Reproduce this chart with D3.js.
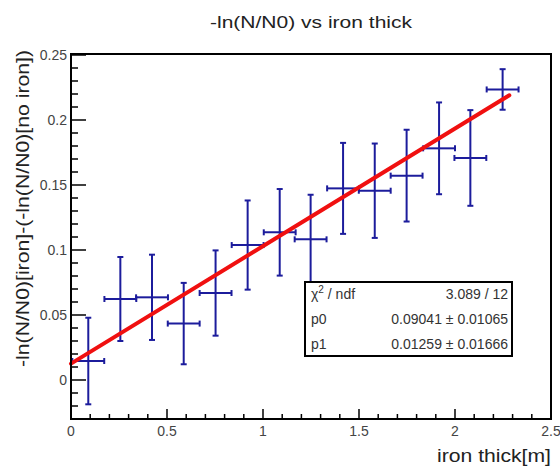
<!DOCTYPE html>
<html>
<head>
<meta charset="utf-8">
<script src="https://cdn.jsdelivr.net/npm/d3@7"></script>
<style>
  body { margin: 0; background: #fff; }
  svg { display: block; font-family: "Liberation Sans", Arial, sans-serif; }
</style>
</head>
<body>
<div id="chart"></div>
<script>
// data
const thick  = [0.09, 0.257, 0.422, 0.587, 0.753, 0.92, 1.087, 1.248, 1.417, 1.582, 1.748, 1.917, 2.08, 2.248];
const lnRat  = [0.0146, 0.0623, 0.0636, 0.0434, 0.0669, 0.1038, 0.1136, 0.1082, 0.1474, 0.1456, 0.1572, 0.1782, 0.1708, 0.2235];
const errY   = [0.0333, 0.0323, 0.0328, 0.0313, 0.0328, 0.0343, 0.0333, 0.0343, 0.035, 0.0363, 0.0353, 0.0353, 0.0368, 0.0156];
const errX   = [0.083, 0.083, 0.083, 0.083, 0.083, 0.083, 0.083, 0.083, 0.083, 0.083, 0.083, 0.083, 0.083, 0.083];
const fitRange = [0, 2.283];
const p0 = 0.09041, p1 = 0.01259;   // slope, intercept
const statRows = [["χ2 / ndf", "3.089 / 12"], ["p0", "0.09041 ± 0.01065"], ["p1", "0.01259 ± 0.01666"]];
const xTicks = [0, 0.5, 1, 1.5, 2, 2.5];
const yTicks = [0, 0.05, 0.1, 0.15, 0.2, 0.25];

const W = 560, H = 468;
const L = 71, R = 551, T = 54, B = 419;

const svg = d3.select("#chart").append("svg")
    .attr("width", W).attr("height", H);

const x = d3.scaleLinear().domain([0, 2.5]).range([L, R]);
const y = d3.scaleLinear().domain([-0.03, 0.25]).range([B, 55]);

const pts = thick.map((t, i) => ({x: t, y: lnRat[i], ex: errX[i], ey: errY[i]}));

// title
svg.append("text").attr("x", 311).attr("y", 28).attr("text-anchor", "middle")
    .attr("font-size", 17).attr("fill", "#222")
    .attr("textLength", 202).attr("lengthAdjust", "spacingAndGlyphs")
    .text("-ln(N/N0) vs iron thick");

// error bars
const blue = "#1c1c9c";
const g = svg.append("g").attr("stroke", blue).attr("stroke-width", 2);
pts.forEach(d => {
    const cx = x(d.x), cy = y(d.y);
    const x1 = x(d.x - d.ex), x2 = x(d.x + d.ex);
    const y1 = y(d.y + d.ey), y2 = y(d.y - d.ey);
    g.append("line").attr("x1", x1).attr("x2", x2).attr("y1", cy).attr("y2", cy);
    g.append("line").attr("x1", cx).attr("x2", cx).attr("y1", y1).attr("y2", y2);
    g.append("line").attr("x1", x1).attr("x2", x1).attr("y1", cy - 3).attr("y2", cy + 3);
    g.append("line").attr("x1", x2).attr("x2", x2).attr("y1", cy - 3).attr("y2", cy + 3);
    g.append("line").attr("x1", cx - 3).attr("x2", cx + 3).attr("y1", y1).attr("y2", y1);
    g.append("line").attr("x1", cx - 3).attr("x2", cx + 3).attr("y1", y2).attr("y2", y2);
});

// fit line
svg.append("line")
    .attr("x1", x(fitRange[0])).attr("y1", y(p1 + p0 * fitRange[0]))
    .attr("x2", x(fitRange[1])).attr("y2", y(p1 + p0 * fitRange[1]))
    .attr("stroke", "#f01010").attr("stroke-width", 4).attr("stroke-linecap", "round");

// frame
svg.append("rect").attr("x", L).attr("y", T).attr("width", R - L).attr("height", B - T)
    .attr("fill", "none").attr("stroke", "#000").attr("stroke-width", 2);

// x ticks
const xMinor = d3.range(0, 2.5001, 0.1);
svg.append("g").selectAll("line").data(xMinor).join("line")
    .attr("x1", d => x(d)).attr("x2", d => x(d))
    .attr("y1", B).attr("y2", (d, i) => i % 5 == 0 ? B - 10 : B - 5)
    .attr("stroke", "#000").attr("stroke-width", 1.5);
svg.append("g").selectAll("text").data(xTicks).join("text")
    .attr("x", d => x(d)).attr("y", 436).attr("text-anchor", "middle")
    .attr("font-size", 14).attr("fill", "#444").text(d => d);

// y ticks
const yMinor = d3.range(-0.03, 0.2501, 0.01);
svg.append("g").selectAll("line").data(yMinor).join("line")
    .attr("x1", L).attr("x2", (d, i) => (i - 3) % 5 == 0 ? L + 15 : L + 7)
    .attr("y1", d => y(d)).attr("y2", d => y(d))
    .attr("stroke", "#000").attr("stroke-width", 1.5);
svg.append("g").selectAll("text").data(yTicks).join("text")
    .attr("x", 67).attr("y", d => y(d) + 5).attr("text-anchor", "end")
    .attr("font-size", 14).attr("fill", "#444").text(d => d);

// axis titles
svg.append("text").attr("x", R).attr("y", 462).attr("text-anchor", "end")
    .attr("font-size", 18).attr("fill", "#222")
    .attr("textLength", 114).attr("lengthAdjust", "spacingAndGlyphs")
    .text("iron thick[m]");
svg.append("text").attr("transform", "translate(29,50) rotate(-90)")
    .attr("text-anchor", "end").attr("font-size", 18).attr("fill", "#222")
    .attr("textLength", 317).attr("lengthAdjust", "spacingAndGlyphs")
    .text("-ln(N/N0)[iron]-(-ln(N/N0)[no iron])");

// stats box
svg.append("rect").attr("x", 305).attr("y", 282).attr("width", 207).attr("height", 74)
    .attr("fill", "#fff").attr("stroke", "#000").attr("stroke-width", 2);
statRows.forEach((r, i) => {
    const ty = 299 + i * 25;
    const lt = svg.append("text").attr("x", 311).attr("y", ty)
        .attr("font-size", 14).attr("fill", "#333");
    if (i == 0) {
        lt.append("tspan").text("χ");
        lt.append("tspan").attr("dy", -6).attr("font-size", 10).text("2");
        lt.append("tspan").attr("dy", 6).text(" / ndf");
    } else lt.text(r[0]);
    svg.append("text").attr("x", 508).attr("y", ty).attr("text-anchor", "end")
        .attr("font-size", 14).attr("fill", "#333").text(r[1]);
});
</script>
</body>
</html>
